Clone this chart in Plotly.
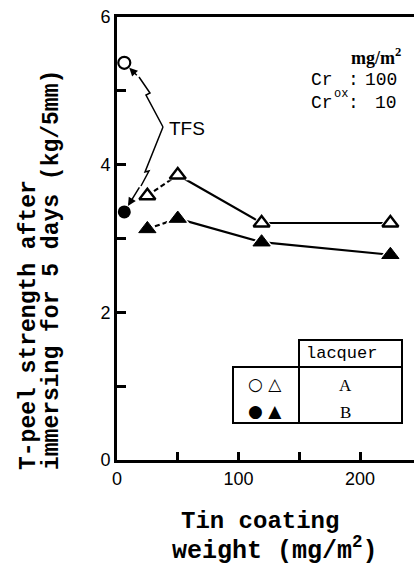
import plotly.graph_objects as go

# Tin coating weight (mg/m2) and T-peel strength (kg/5mm)
tin_weight = [25, 50, 119, 225]
peel_a = [3.58, 3.86, 3.21, 3.21]   # lacquer A (open triangles)
peel_b = [3.13, 3.27, 2.95, 2.78]   # lacquer B (filled triangles)

tfs_weight = [6]
tfs_a = [5.38]   # TFS, lacquer A (open circle)
tfs_b = [3.36]   # TFS, lacquer B (filled circle)

x_ticks = [0, 50, 100, 150, 200]
x_labels = ["0", "", "100", "", "200"]
y_ticks = [0, 1, 2, 3, 4, 5, 6]
y_labels = ["0", "", "2", "", "4", "", "6"]

W, H = 414, 564
L, R, T, B = 117, 0, 17, 104
PW, PH = W - L - R, H - T - B


def px(x):
    return (x - L) / PW


def py(y):
    return (H - B - y) / PH


fig = go.Figure()

# connecting lines: first segment dashed, the rest solid
for ys in (peel_a, peel_b):
    fig.add_trace(go.Scatter(x=tin_weight[:2], y=ys[:2], mode="lines",
                             line=dict(color="black", width=2.2, dash="5px,3px"),
                             showlegend=False, hoverinfo="skip"))
    fig.add_trace(go.Scatter(x=tin_weight[1:], y=ys[1:], mode="lines",
                             line=dict(color="black", width=2.2),
                             showlegend=False, hoverinfo="skip"))

# white halo under the triangles leaves a gap where lines meet the markers
for ys in (peel_a, peel_b):
    fig.add_trace(go.Scatter(x=tin_weight, y=ys, mode="markers",
                             marker=dict(symbol="triangle-up", size=21, color="white",
                                         line=dict(width=0)),
                             showlegend=False, hoverinfo="skip"))

fig.add_trace(go.Scatter(x=tin_weight, y=peel_a, mode="markers",
                         marker=dict(symbol="triangle-up-open", size=14,
                                     color="black", line=dict(width=2.4, color="black")),
                         showlegend=False))
fig.add_trace(go.Scatter(x=tin_weight, y=peel_b, mode="markers",
                         marker=dict(symbol="triangle-up", size=15, color="black",
                                     line=dict(width=1, color="black")),
                         showlegend=False))
fig.add_trace(go.Scatter(x=tfs_weight, y=tfs_a, mode="markers",
                         marker=dict(symbol="circle", size=12, color="white",
                                     line=dict(width=2.2, color="black")),
                         showlegend=False))
fig.add_trace(go.Scatter(x=tfs_weight, y=tfs_b, mode="markers",
                         marker=dict(symbol="circle", size=13, color="black"),
                         showlegend=False))

shapes = []
# zigzag leader lines from the TFS label
for pts in ([(163, 127), (146, 95), (150, 93), (139, 77)],
            [(163, 127), (145, 172), (149, 171), (141, 186)]):
    d = "M " + " L ".join(f"{px(a):.4f},{py(b):.4f}" for a, b in pts)
    shapes.append(dict(type="path", path=d, xref="paper", yref="paper",
                       line=dict(color="black", width=1.5)))

# legend table
tbl = dict(type="rect", xref="paper", yref="paper", line=dict(color="black", width=2))
shapes.append(dict(tbl, x0=px(299), x1=px(402), y0=py(340), y1=py(367)))
shapes.append(dict(tbl, x0=px(233), x1=px(402), y0=py(367), y1=py(423)))
shapes.append(dict(type="line", xref="paper", yref="paper",
                   x0=px(299), x1=px(299), y0=py(367), y1=py(423),
                   line=dict(color="black", width=2)))

ann = []
# arrow heads at the TFS points
ann.append(dict(x=tfs_weight[0], y=tfs_a[0], xref="x", yref="y", text="",
                showarrow=True, arrowhead=2, arrowsize=1.1, arrowwidth=1.5,
                arrowcolor="black", ax=139 - 125, ay=77 - 63, standoff=7))
ann.append(dict(x=tfs_weight[0], y=tfs_b[0], xref="x", yref="y", text="",
                showarrow=True, arrowhead=2, arrowsize=1.1, arrowwidth=1.5,
                arrowcolor="black", ax=141 - 125, ay=186 - 212, standoff=7))
ann.append(dict(x=px(167), y=py(128), xref="paper", yref="paper", text="TFS",
                showarrow=False, xanchor="left", yanchor="middle",
                font=dict(family="Liberation Sans", size=19, color="black")))

mono = "Liberation Mono"
serif = "Liberation Serif"
ann += [
    dict(x=px(403), y=py(57), text="<b>mg/m<sup>2</sup></b>", xanchor="right",
         font=dict(family=serif, size=18)),
    dict(x=px(309), y=py(80), text="Cr", xanchor="left", font=dict(family=mono, size=18)),
    dict(x=px(353), y=py(80), text=":", font=dict(family=mono, size=18)),
    dict(x=px(399), y=py(80), text="100", xanchor="right", font=dict(family=mono, size=18)),
    dict(x=px(309), y=py(103), text="Cr", xanchor="left", font=dict(family=mono, size=18)),
    dict(x=px(332), y=py(94), text="ox", xanchor="left", font=dict(family=mono, size=12)),
    dict(x=px(353), y=py(103), text=":", font=dict(family=mono, size=18)),
    dict(x=px(399), y=py(103), text="10", xanchor="right", font=dict(family=mono, size=18)),
    # legend table contents
    dict(x=px(341), y=py(353), text="lacquer", font=dict(family=mono, size=17)),
    dict(x=px(345), y=py(385), text="A", font=dict(family=serif, size=17)),
    dict(x=px(345), y=py(412), text="B", font=dict(family=serif, size=17)),
    dict(x=px(265), y=py(384), text="○ △", font=dict(family="DejaVu Sans", size=17)),
    dict(x=px(265), y=py(411), text="● ▲", font=dict(family="DejaVu Sans", size=17)),
    # axis titles
    dict(x=px(260), y=py(521), text="<b>Tin coating</b>", font=dict(family=mono, size=24)),
    dict(x=px(275), y=py(549), text="<b>weight (mg/m<sup>2</sup>)</b>",
         font=dict(family=mono, size=25)),
    dict(x=px(29), y=py(472), text="<b>T-peel strength after</b>", textangle=-90,
         yanchor="bottom", font=dict(family=mono, size=23)),
    dict(x=px(52), y=py(472), text="<b>immersing for 5 days (kg/5mm)</b>", textangle=-90,
         yanchor="bottom", font=dict(family=mono, size=23)),
]
for a in ann:
    a.setdefault("xref", "paper")
    a.setdefault("yref", "paper")
    a.setdefault("showarrow", False)
    a.setdefault("xanchor", "center")
    a.setdefault("yanchor", "middle")
    a["font"] = dict(a.get("font", {}), color="black")

fig.update_layout(
    width=W, height=H,
    margin=dict(l=L, r=R, t=T, b=B),
    paper_bgcolor="white", plot_bgcolor="white",
    shapes=shapes, annotations=ann,
    xaxis=dict(range=[0, PW / 121.5 * 100], tickvals=x_ticks, ticktext=x_labels,
               ticks="inside", ticklen=8, tickwidth=3, tickcolor="black",
               showline=True, linewidth=3, linecolor="black", mirror=True,
               showgrid=False, zeroline=False,
               tickfont=dict(family="Liberation Sans", size=18, color="black")),
    yaxis=dict(range=[0, 6], tickvals=y_ticks, ticktext=y_labels,
               ticks="inside", ticklen=9, tickwidth=3, tickcolor="black",
               showline=True, linewidth=3, linecolor="black",
               showgrid=False, zeroline=False,
               tickfont=dict(family="Liberation Sans", size=18, color="black")),
)

fig.write_html("out.html")
